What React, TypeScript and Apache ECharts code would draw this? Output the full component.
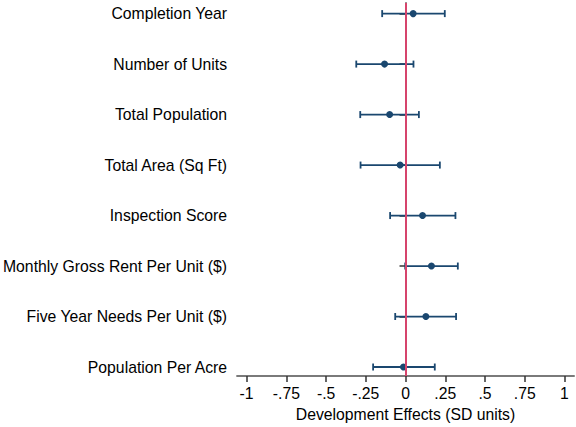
import React, { useEffect, useRef } from "react";
import * as echarts from "echarts";

const categories = [
  "Completion Year",
  "Number of Units",
  "Total Population",
  "Total Area (Sq Ft)",
  "Inspection Score",
  "Monthly Gross Rent Per Unit ($)",
  "Five Year Needs Per Unit ($)",
  "Population Per Acre",
];
const estimates = [0.048, -0.132, -0.1, -0.034, 0.107, 0.163, 0.128, -0.013];
const lowerCI = [-0.147, -0.31, -0.285, -0.283, -0.097, -0.002, -0.065, -0.204];
const upperCI = [0.247, 0.05, 0.084, 0.216, 0.314, 0.329, 0.318, 0.184];
const xTicks = [-1, -0.75, -0.5, -0.25, 0, 0.25, 0.5, 0.75, 1];
const xTickLabels = ["-1", "-.75", "-.5", "-.25", "0", ".25", ".5", ".75", "1"];

const NAVY = "#1a476f";
const FONT = "Liberation Sans, Arial, Helvetica, sans-serif";
const FS = 15.75;

export default function App() {
  const ref = useRef<HTMLDivElement>(null);
  useEffect(() => {
    if (!ref.current) return;
    const chart = echarts.init(ref.current, undefined, { renderer: "svg" });
    const positions = categories.map((_, i) => i + 1);
    const ciData = categories.map((_, i) => [lowerCI[i], upperCI[i], i + 1]);
    const pointData = categories.map((_, i) => [estimates[i], i + 1]);
    chart.setOption({
      animation: false,
      grid: { left: 237, right: 2, top: 3, bottom: 48, containLabel: false },
      xAxis: {
        type: "value",
        min: -1.06,
        max: 1.06,
        splitLine: { show: false },
        axisLine: { show: true, lineStyle: { color: "#7a7a7a", width: 2 } },
        axisTick: {
          show: true,
          customValues: xTicks,
          length: 6,
          lineStyle: { color: "#333", width: 1.5 },
        },
        axisLabel: {
          customValues: xTicks,
          formatter: (v: number) => {
            const idx = xTicks.findIndex((t) => Math.abs(t - v) < 1e-6);
            return idx >= 0 ? xTickLabels[idx] : "";
          },
          margin: 9,
          fontSize: FS,
          color: "#000",
          fontFamily: FONT,
        },
        name: "Development Effects (SD units)",
        nameLocation: "middle",
        nameGap: 27,
        nameTextStyle: { fontSize: FS, color: "#000", fontFamily: FONT },
      },
      yAxis: {
        type: "value",
        inverse: true,
        min: 0.79,
        max: 8.18,
        splitLine: { show: false },
        axisLine: { show: true, lineStyle: { color: "#7a7a7a", width: 2 } },
        axisTick: {
          show: true,
          customValues: positions,
          length: 6,
          lineStyle: { color: "#333", width: 1.5 },
        },
        axisLabel: {
          customValues: positions,
          formatter: (v: number) => categories[Math.round(v) - 1] ?? "",
          margin: 10,
          fontSize: FS,
          color: "#000",
          fontFamily: FONT,
        },
      },
      series: [
        {
          type: "custom",
          data: ciData,
          encode: { x: [0, 1], y: 2 },
          renderItem: (params: any, api: any) => {
            const lo = api.coord([api.value(0), api.value(2)]);
            const hi = api.coord([api.value(1), api.value(2)]);
            const h = 3.5;
            const style = { stroke: NAVY, lineWidth: 1.8 };
            return {
              type: "group",
              children: [
                { type: "line", shape: { x1: lo[0], y1: lo[1], x2: hi[0], y2: hi[1] }, style },
                { type: "line", shape: { x1: lo[0], y1: lo[1] - h, x2: lo[0], y2: lo[1] + h }, style },
                { type: "line", shape: { x1: hi[0], y1: hi[1] - h, x2: hi[0], y2: hi[1] + h }, style },
              ],
            };
          },
          z: 3,
        },
        {
          type: "scatter",
          data: pointData,
          symbol: "circle",
          symbolSize: 7,
          itemStyle: { color: NAVY, opacity: 1 },
          z: 4,
        },
        {
          type: "line",
          data: [],
          z: 5,
          markLine: {
            silent: true,
            symbol: "none",
            label: { show: false },
            lineStyle: { color: "#d6446c", width: 2, type: "solid" },
            data: [{ xAxis: 0 }],
          },
        },
      ],
    });
    return () => chart.dispose();
  }, []);
  return <div ref={ref} style={{ width: 576, height: 427, position: "absolute", left: 0, top: 0, background: "#fff" }} />;
}
